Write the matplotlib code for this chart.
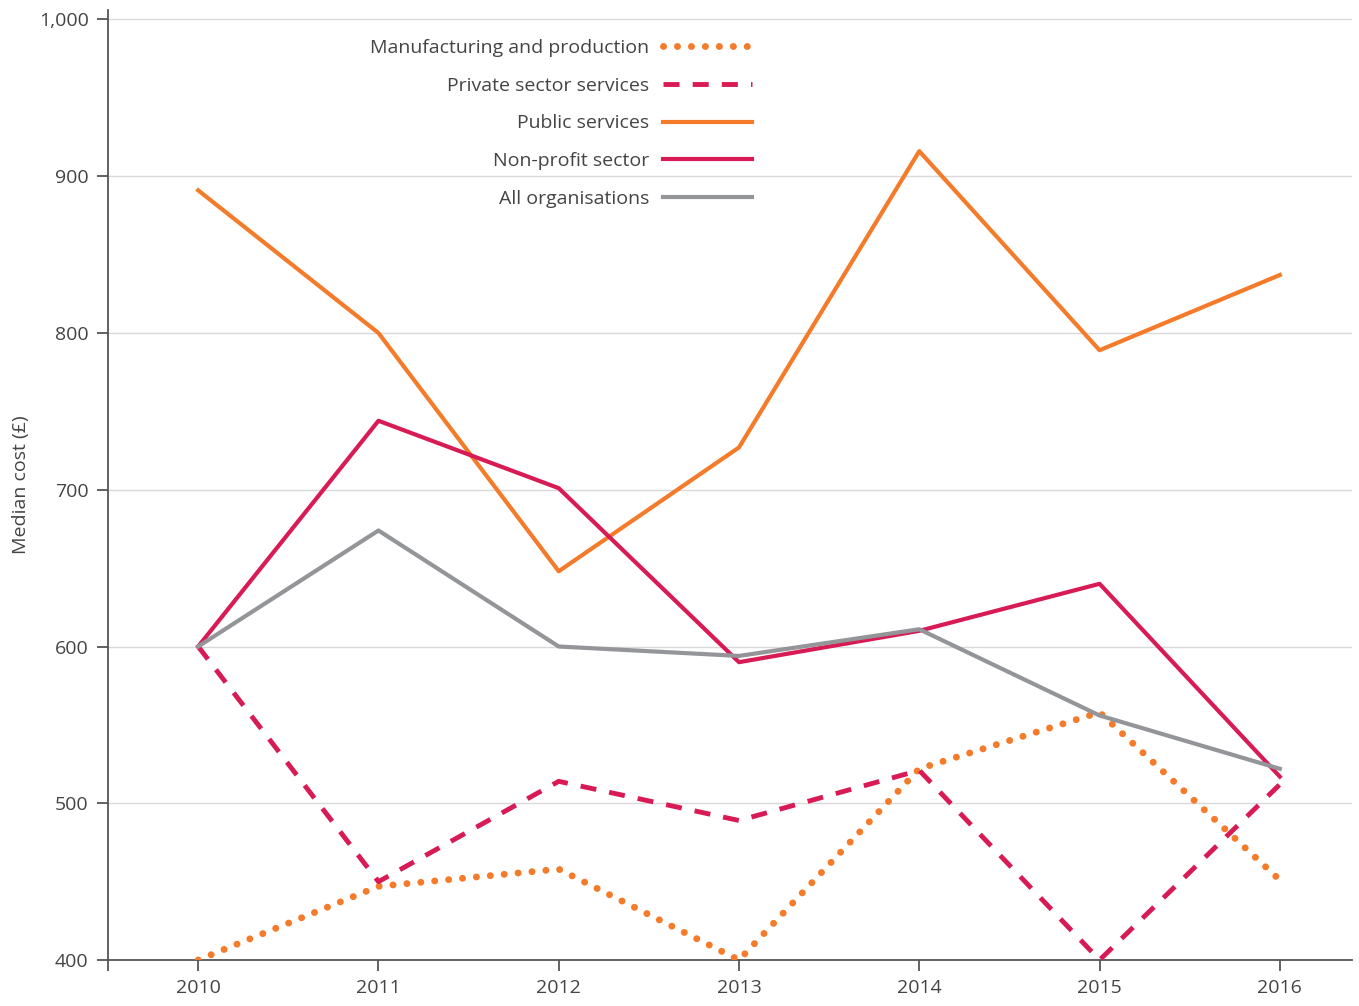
import matplotlib
matplotlib.use("Agg")
import matplotlib.pyplot as plt
from matplotlib.ticker import FuncFormatter

# data
years = [2010, 2011, 2012, 2013, 2014, 2015, 2016]
manufacturing = [400, 447, 458, 400, 522, 558, 451]
private_sector = [600, 450, 514, 489, 521, 400, 512]
public_services = [891, 800, 648, 727, 916, 789, 837]
non_profit = [600, 744, 701, 590, 610, 640, 517]
all_orgs = [600, 674, 600, 594, 611, 556, 522]

ORANGE = "#F47B2A"
CRIMSON = "#D81B55"
GREY = "#939598"
TEXT = "#444444"

plt.rcParams['font.family'] = ['Open Sans', 'DejaVu Sans']

fig = plt.figure(figsize=(13.59, 10.06), dpi=100)
ax = fig.add_axes([0.0795, 0.0457, 0.9153, 0.9443])

ax.plot(years, manufacturing, color=ORANGE, lw=5, linestyle=(0, (0.01, 2.0)),
        dash_capstyle='round', label="Manufacturing and production", zorder=3)
ax.plot(years, private_sector, color=CRIMSON, lw=3.5, linestyle=(0, (3.3, 2.7)),
        dash_capstyle='butt', label="Private sector services", zorder=3)
ax.plot(years, public_services, color=ORANGE, lw=3, label="Public services", zorder=3)
ax.plot(years, non_profit, color=CRIMSON, lw=3, label="Non-profit sector", zorder=3)
ax.plot(years, all_orgs, color=GREY, lw=3, label="All organisations", zorder=3)

ax.set_xlim(2009.5, 2016.4)
ax.set_ylim(400, 1006)
ax.set_xticks([2009.5] + years)
ax.set_xticklabels([""] + [str(y) for y in years])
ax.set_yticks([400, 500, 600, 700, 800, 900, 1000])
ax.yaxis.set_major_formatter(FuncFormatter(lambda v, p: f"{int(v):,}"))
ax.grid(axis='y', color="#d9d9d9", lw=1, zorder=0)
ax.set_axisbelow(True)

for s in ['top', 'right']:
    ax.spines[s].set_visible(False)
for s in ['left', 'bottom']:
    ax.spines[s].set_color("#555555")
    ax.spines[s].set_linewidth(1.3)
ax.tick_params(axis='both', direction='out', length=8, width=1.3, color="#555555",
               labelsize=14, labelcolor=TEXT, pad=6)

ax.set_ylabel("Median cost (£)", fontsize=14, color=TEXT, labelpad=6)

leg = ax.legend(loc='upper right', bbox_to_anchor=(0.5255, 0.98), frameon=False,
                markerfirst=False, fontsize=14, handlelength=4.6, handletextpad=0.7,
                labelspacing=1.02, borderpad=0)
for t in leg.get_texts():
    t.set_color(TEXT)

fig.savefig("out.png", dpi=100)
